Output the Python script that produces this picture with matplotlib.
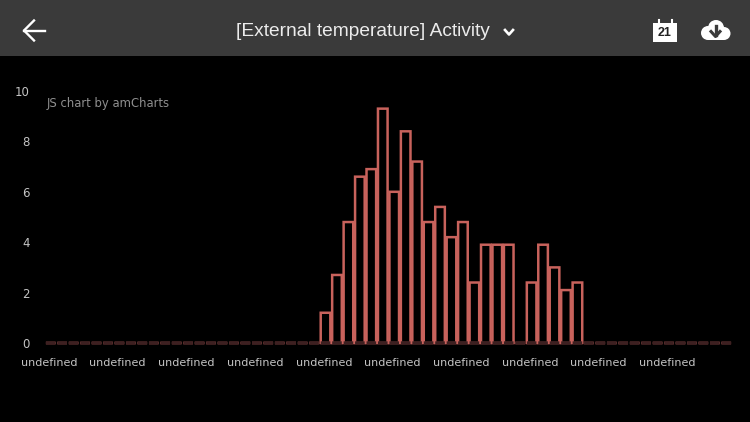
#!/usr/bin/env python3
import numpy as np
import matplotlib
matplotlib.use('Agg')
import matplotlib.pyplot as plt
from matplotlib.patches import Rectangle, Circle

# 60 categories, only these carry activity
activity = [0] * 24 + [1.2, 2.7, 4.8, 6.6, 6.9, 9.3, 6.0, 8.4, 7.2, 4.8, 5.4, 4.2,
                       4.8, 2.4, 3.9, 3.9, 3.9, 0, 2.4, 3.9, 3.0, 2.1, 2.4] + [0] * 13
x_labels = ['undefined'] * 10
y_ticks = [0, 2, 4, 6, 8, 10]
title = '[External temperature] Activity'

W, H = 750, 422
BAR = '#c8625c'
ZERO = '#3d2021'

fig = plt.figure(figsize=(W / 100, H / 100), dpi=100, facecolor='black')

# chart area, placed in pixels
x0, x1, y_base, y_top = 45, 732, 343, 91
ax = fig.add_axes([x0 / W, 1 - y_base / H, (x1 - x0) / W, (y_base - y_top) / H])
ax.set_facecolor('black')
xs = np.arange(len(activity))
ax.bar(xs, activity, width=0.84, facecolor='none', linewidth=1.8, edgecolor=BAR,
       clip_on=False, snap=False)
# dark base dash under every column
ax.bar(xs, np.zeros(len(xs)), width=0.84, facecolor='none', linewidth=2.4, edgecolor=ZERO,
       clip_on=False, snap=False)
ax.set_xlim(-0.5, len(activity) - 0.5)
ax.set_ylim(0, 10)
ax.set_yticks(y_ticks)
ax.set_xticks(xs[::6] - 0.15)
ax.set_xticklabels(x_labels)
ax.tick_params(length=0, labelcolor='#c4c4c4')
ax.tick_params(axis='x', labelsize=8, pad=11)
ax.tick_params(axis='y', labelsize=8.5, pad=10.8)
for s in ax.spines.values():
    s.set_visible(False)

# overlay in pixel coordinates for the app header and credit
ui = fig.add_axes([0, 0, 1, 1], facecolor='none')
ui.set_xlim(0, W)
ui.set_ylim(H, 0)
ui.axis('off')
ui.add_patch(Rectangle((0, 0), W, 55.5, color='#3a3a3a', lw=0))
ui.text(47, 104, 'JS chart by amCharts', color='#8f8f8f', fontsize=8.4,
        family='DejaVu Sans', va='center')
ui.text(363, 31, title, color='#ececec', fontsize=13.75, family='Liberation Sans',
        ha='center', va='center')

# back arrow
ui.plot([24, 45], [30.5, 30.5], color='white', lw=1.7)
ui.plot([34, 24, 34], [20.5, 30.5, 40.5], color='white', lw=1.7)
# chevron
ui.plot([505, 509, 513], [30, 34.5, 30], color='white', lw=1.9)
# calendar
ui.add_patch(Rectangle((653, 23), 24, 19, color='white', lw=0))
ui.plot([658.5, 658.5], [19.5, 24], color='white', lw=1.5)
ui.plot([671.5, 671.5], [19.5, 24], color='white', lw=1.5)
ui.text(665, 33.5, '21', color='#222222', fontsize=9, weight='bold',
        family='Liberation Sans', ha='center', va='center')
# cloud with download arrow
for cx, cy, r in [(708, 33, 7), (716, 28, 8), (724, 33.5, 6.5)]:
    ui.add_patch(Circle((cx, cy), r, color='white', lw=0))
ui.add_patch(Rectangle((708, 31), 16, 9, color='white', lw=0))
ui.plot([715.5, 715.5], [26, 35], color='#3a3a3a', lw=2.4)
ui.plot([711, 715.5, 720], [31.5, 36.5, 31.5], color='#3a3a3a', lw=2.2)

fig.savefig('out.png', dpi=100, facecolor='black')
plt.close()
